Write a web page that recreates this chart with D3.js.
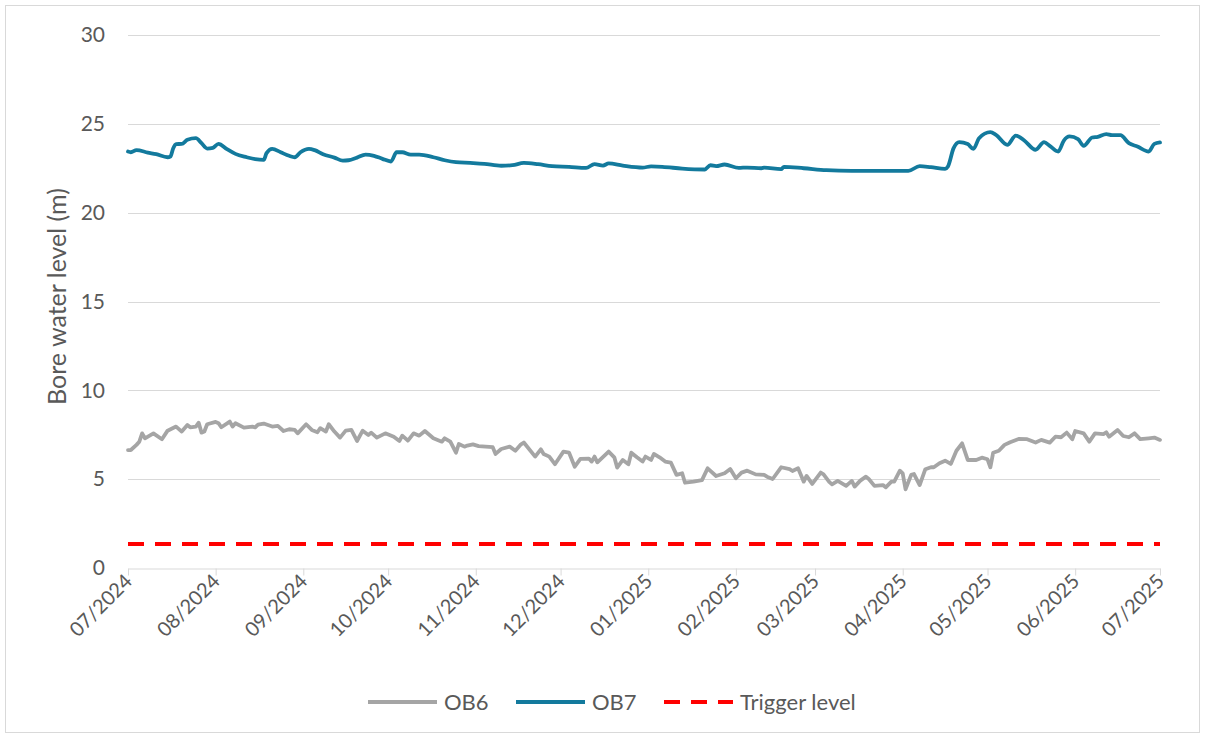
<!DOCTYPE html>
<html>
<head>
<meta charset="utf-8">
<script src="https://cdn.jsdelivr.net/npm/d3@7"></script>
<style>
  html, body { margin: 0; padding: 0; background: #fff; }
  text { font-family: Lato, "Open Sans", sans-serif; fill: #595959; }
</style>
</head>
<body>
<svg id="chart" width="1205" height="738"></svg>
<script>
// ---------- data ----------
const seriesNames = ["OB6", "OB7", "Trigger level"];
const yTickValues = [0, 5, 10, 15, 20, 25, 30];
const triggerLevel = 1.35;

const ob7 = [
 ["2024-07-01",23.44],["2024-07-02",23.40],["2024-07-04",23.52],["2024-07-08",23.38],["2024-07-11",23.29],
 ["2024-07-15",23.12],["2024-07-16",23.16],["2024-07-17",23.63],["2024-07-18",23.86],["2024-07-20",23.87],
 ["2024-07-22",24.10],["2024-07-25",24.19],["2024-07-27",23.91],["2024-07-29",23.61],["2024-07-31",23.65],
 ["2024-08-02",23.87],["2024-08-05",23.58],["2024-08-08",23.31],["2024-08-12",23.12],["2024-08-15",23.01],
 ["2024-08-18",22.97],["2024-08-19",23.35],["2024-08-21",23.59],["2024-08-24",23.40],["2024-08-27",23.20],
 ["2024-08-29",23.12],["2024-08-31",23.40],["2024-09-03",23.59],["2024-09-05",23.52],["2024-09-08",23.29],
 ["2024-09-12",23.10],["2024-09-15",22.93],["2024-09-17",22.95],["2024-09-20",23.10],["2024-09-23",23.27],
 ["2024-09-26",23.20],["2024-09-29",23.03],["2024-10-02",22.88],["2024-10-04",23.40],["2024-10-06",23.40],
 ["2024-10-09",23.27],["2024-10-12",23.27],["2024-10-17",23.12],["2024-10-21",22.95],["2024-10-25",22.84],
 ["2024-10-30",22.80],["2024-11-04",22.75],["2024-11-10",22.64],["2024-11-14",22.67],["2024-11-18",22.80],
 ["2024-11-23",22.73],["2024-11-28",22.62],["2024-12-04",22.58],["2024-12-10",22.52],["2024-12-13",22.73],
 ["2024-12-16",22.65],["2024-12-18",22.77],["2024-12-23",22.65],["2024-12-30",22.54],["2025-01-02",22.60],
 ["2025-01-06",22.58],["2025-01-13",22.48],["2025-01-21",22.43],["2025-01-23",22.67],["2025-01-25",22.62],
 ["2025-01-28",22.71],["2025-02-02",22.52],["2025-02-05",22.54],["2025-02-10",22.50],["2025-02-11",22.54],
 ["2025-02-17",22.45],["2025-02-18",22.58],["2025-02-25",22.50],["2025-03-05",22.39],["2025-03-14",22.35],
 ["2025-03-20",22.35],["2025-03-26",22.35],["2025-04-03",22.35],["2025-04-07",22.62],["2025-04-11",22.56],
 ["2025-04-16",22.47],["2025-04-17",22.60],["2025-04-19",23.63],["2025-04-21",23.97],["2025-04-24",23.86],
 ["2025-04-26",23.59],["2025-04-28",24.19],["2025-05-02",24.53],["2025-05-04",24.38],["2025-05-08",23.82],
 ["2025-05-11",24.34],["2025-05-14",24.06],["2025-05-18",23.54],["2025-05-21",23.97],["2025-05-23",23.76],
 ["2025-05-26",23.44],["2025-05-28",24.06],["2025-05-30",24.29],["2025-06-02",24.14],["2025-06-04",23.76],
 ["2025-06-07",24.23],["2025-06-09",24.27],["2025-06-12",24.42],["2025-06-14",24.36],["2025-06-17",24.36],
 ["2025-06-20",23.91],["2025-06-23",23.72],["2025-06-27",23.44],["2025-06-29",23.87],["2025-07-01",23.95]
];

const ob6 = [
 ["2024-07-01",6.64],["2024-07-02",6.64],["2024-07-04",6.93],["2024-07-05",7.11],["2024-07-06",7.58],
 ["2024-07-07",7.30],["2024-07-10",7.58],["2024-07-13",7.25],["2024-07-15",7.73],["2024-07-18",7.96],
 ["2024-07-20",7.68],["2024-07-22",8.05],["2024-07-23",7.92],["2024-07-25",7.96],["2024-07-26",8.18],
 ["2024-07-27",7.62],["2024-07-28",7.68],["2024-07-29",8.09],["2024-08-01",8.22],["2024-08-02",8.15],
 ["2024-08-03",7.92],["2024-08-06",8.24],["2024-08-07",7.96],["2024-08-08",8.15],["2024-08-11",7.90],
 ["2024-08-14",7.96],["2024-08-15",7.92],["2024-08-16",8.07],["2024-08-18",8.13],["2024-08-21",7.96],
 ["2024-08-23",8.00],["2024-08-25",7.71],["2024-08-27",7.81],["2024-08-29",7.77],["2024-08-30",7.58],
 ["2024-09-02",8.09],["2024-09-04",7.77],["2024-09-06",7.64],["2024-09-07",7.87],["2024-09-09",7.68],
 ["2024-09-10",8.09],["2024-09-12",7.68],["2024-09-14",7.34],["2024-09-16",7.73],["2024-09-18",7.77],
 ["2024-09-20",7.15],["2024-09-22",7.73],["2024-09-24",7.49],["2024-09-25",7.62],["2024-09-27",7.34],
 ["2024-09-30",7.58],["2024-10-03",7.39],["2024-10-05",7.15],["2024-10-06",7.45],["2024-10-08",7.17],
 ["2024-10-10",7.58],["2024-10-12",7.45],["2024-10-14",7.71],["2024-10-17",7.30],["2024-10-20",7.11],
 ["2024-10-21",7.30],["2024-10-23",7.11],["2024-10-25",6.49],["2024-10-26",6.98],["2024-10-28",6.83],
 ["2024-10-29",6.89],["2024-10-31",6.96],["2024-11-02",6.86],["2024-11-07",6.80],["2024-11-08",6.42],
 ["2024-11-10",6.70],["2024-11-13",6.83],["2024-11-15",6.60],["2024-11-17",6.96],["2024-11-18",7.06],
 ["2024-11-22",6.27],["2024-11-24",6.68],["2024-11-25",6.42],["2024-11-27",6.27],["2024-11-29",5.84],
 ["2024-12-02",6.55],["2024-12-04",6.49],["2024-12-06",5.70],["2024-12-08",6.14],["2024-12-11",6.16],
 ["2024-12-12",5.99],["2024-12-13",6.27],["2024-12-14",5.95],["2024-12-18",6.55],["2024-12-20",6.23],
 ["2024-12-21",5.65],["2024-12-23",6.08],["2024-12-25",5.84],["2024-12-26",6.49],["2024-12-28",6.23],
 ["2024-12-30",5.99],["2024-12-31",6.27],["2025-01-02",6.08],["2025-01-03",6.42],["2025-01-05",6.23],
 ["2025-01-07",5.99],["2025-01-09",5.93],["2025-01-11",5.24],["2025-01-13",5.33],["2025-01-14",4.80],
 ["2025-01-17",4.86],["2025-01-20",4.95],["2025-01-22",5.61],["2025-01-25",5.18],["2025-01-28",5.33],
 ["2025-01-30",5.57],["2025-02-01",5.05],["2025-02-03",5.37],["2025-02-05",5.48],["2025-02-08",5.27],
 ["2025-02-11",5.24],["2025-02-12",5.14],["2025-02-14",5.01],["2025-02-17",5.67],["2025-02-20",5.56],
 ["2025-02-21",5.46],["2025-02-23",5.61],["2025-02-25",4.86],["2025-02-26",5.18],["2025-02-28",4.73],
 ["2025-03-03",5.37],["2025-03-04",5.27],["2025-03-06",4.85],["2025-03-07",4.71],["2025-03-09",4.90],
 ["2025-03-12",4.62],["2025-03-14",4.90],["2025-03-15",4.58],["2025-03-17",4.92],["2025-03-19",5.14],
 ["2025-03-20",5.01],["2025-03-22",4.62],["2025-03-25",4.67],["2025-03-26",4.54],["2025-03-28",4.86],
 ["2025-03-29",4.86],["2025-03-31",5.48],["2025-04-01",5.33],["2025-04-02",4.43],["2025-04-04",5.24],
 ["2025-04-05",5.29],["2025-04-07",4.67],["2025-04-09",5.56],["2025-04-11",5.67],["2025-04-12",5.67],
 ["2025-04-14",5.90],["2025-04-16",6.04],["2025-04-18",5.86],["2025-04-20",6.60],["2025-04-22",7.02],
 ["2025-04-24",6.08],["2025-04-27",6.08],["2025-04-29",6.21],["2025-05-01",6.12],["2025-05-02",5.67],
 ["2025-05-03",6.49],["2025-05-05",6.60],["2025-05-07",6.93],["2025-05-09",7.08],["2025-05-12",7.26],
 ["2025-05-15",7.25],["2025-05-18",7.06],["2025-05-20",7.21],["2025-05-23",7.06],["2025-05-25",7.39],
 ["2025-05-27",7.36],["2025-05-29",7.62],["2025-05-31",7.25],["2025-06-01",7.71],["2025-06-04",7.58],
 ["2025-06-06",7.11],["2025-06-08",7.58],["2025-06-11",7.54],["2025-06-12",7.64],["2025-06-13",7.39],
 ["2025-06-16",7.77],["2025-06-18",7.43],["2025-06-20",7.36],["2025-06-22",7.58],["2025-06-24",7.25],
 ["2025-06-27",7.30],["2025-06-29",7.34],["2025-07-01",7.21]
];

const dateRange = ["2024-07-01", "2025-07-01"];

// ---------- chart ----------
const parse = d3.timeParse("%Y-%m-%d");
const colors = { OB6: "#a5a5a5", OB7: "#137a9d", trig: "#ff0000" };
const W = 1205, H = 738;
const M = { left: 128, right: 1160, top: 35, bottom: 568 };

const svg = d3.select("#chart");

// outer border
svg.append("rect").attr("x", 5.5).attr("y", 5.5).attr("width", W - 11).attr("height", H - 11)
  .attr("fill", "#fff").attr("stroke", "#d9d9d9").attr("stroke-width", 1);

const x = d3.scaleTime().domain(dateRange.map(parse)).range([M.left, M.right]);
const y = d3.scaleLinear().domain([0, 30]).range([M.bottom, M.top]);

// gridlines
svg.append("g").selectAll("line").data(yTickValues.filter(v => v > 0)).join("line")
  .attr("x1", M.left).attr("x2", M.right)
  .attr("y1", d => Math.round(y(d)) + 0.5).attr("y2", d => Math.round(y(d)) + 0.5)
  .attr("stroke", "#d9d9d9").attr("stroke-width", 1);

// y axis labels
const yAxis = svg.append("g").attr("transform", `translate(${M.left - 23},0)`)
  .call(d3.axisLeft(y).tickValues(yTickValues).tickSize(0).tickPadding(0));
yAxis.select(".domain").remove();
yAxis.selectAll("text").style("font-size", "21px").attr("fill", "#595959")
  .style("font-family", "Lato, sans-serif");

// x axis
const xAxis = svg.append("g").attr("transform", `translate(0,${Math.round(M.bottom) + 0.5})`)
  .call(d3.axisBottom(x).ticks(d3.timeMonth.every(1)).tickFormat(d3.timeFormat("%m/%Y"))
    .tickSize(7).tickSizeOuter(0));
xAxis.select(".domain").attr("stroke", "#d9d9d9");
xAxis.selectAll(".tick line").attr("stroke", "#d9d9d9");
xAxis.selectAll(".tick text")
  .style("font-size", "20px").style("font-family", "Lato, sans-serif").attr("fill", "#595959")
  .attr("text-anchor", "end")
  .attr("dy", null).attr("y", 0)
  .attr("transform", "translate(5,14) rotate(-45)");

// y axis title
svg.append("text")
  .attr("transform", `translate(57,${(M.top + M.bottom) / 2 - 5}) rotate(-90)`)
  .attr("text-anchor", "middle").attr("dy", "0.35em")
  .style("font-size", "25px").text("Bore water level (m)");

// lines
const lineSmooth = d3.line().x(d => x(parse(d[0]))).y(d => y(d[1])).curve(d3.curveMonotoneX);
const lineRaw = d3.line().x(d => x(parse(d[0]))).y(d => y(d[1]));

svg.append("path").datum(ob6).attr("d", lineRaw).attr("fill", "none")
  .attr("stroke", colors.OB6).attr("stroke-width", 3.8).attr("stroke-linejoin", "round").attr("stroke-linecap", "round");
svg.append("path").datum(ob7).attr("d", lineSmooth).attr("fill", "none")
  .attr("stroke", colors.OB7).attr("stroke-width", 3.8).attr("stroke-linejoin", "round").attr("stroke-linecap", "round");

svg.append("line")
  .attr("x1", x(parse(dateRange[0]))).attr("x2", x(parse(dateRange[1])))
  .attr("y1", y(triggerLevel)).attr("y2", y(triggerLevel))
  .attr("stroke", colors.trig).attr("stroke-width", 3.8).attr("stroke-dasharray", "16,11");

// legend
const legendItems = [
  { name: seriesNames[0], color: colors.OB6, dash: null, x: 368 },
  { name: seriesNames[1], color: colors.OB7, dash: null, x: 516 },
  { name: seriesNames[2], color: colors.trig, dash: "16,11", x: 664 }
];
const lg = svg.append("g");
legendItems.forEach(it => {
  lg.append("line").attr("x1", it.x).attr("x2", it.x + 69).attr("y1", 702).attr("y2", 702)
    .attr("stroke", it.color).attr("stroke-width", 3.8)
    .attr("stroke-dasharray", it.dash);
  lg.append("text").attr("x", it.x + 76).attr("y", 702).attr("dy", "0.35em")
    .style("font-size", "22px").text(it.name);
});
</script>
</body>
</html>
